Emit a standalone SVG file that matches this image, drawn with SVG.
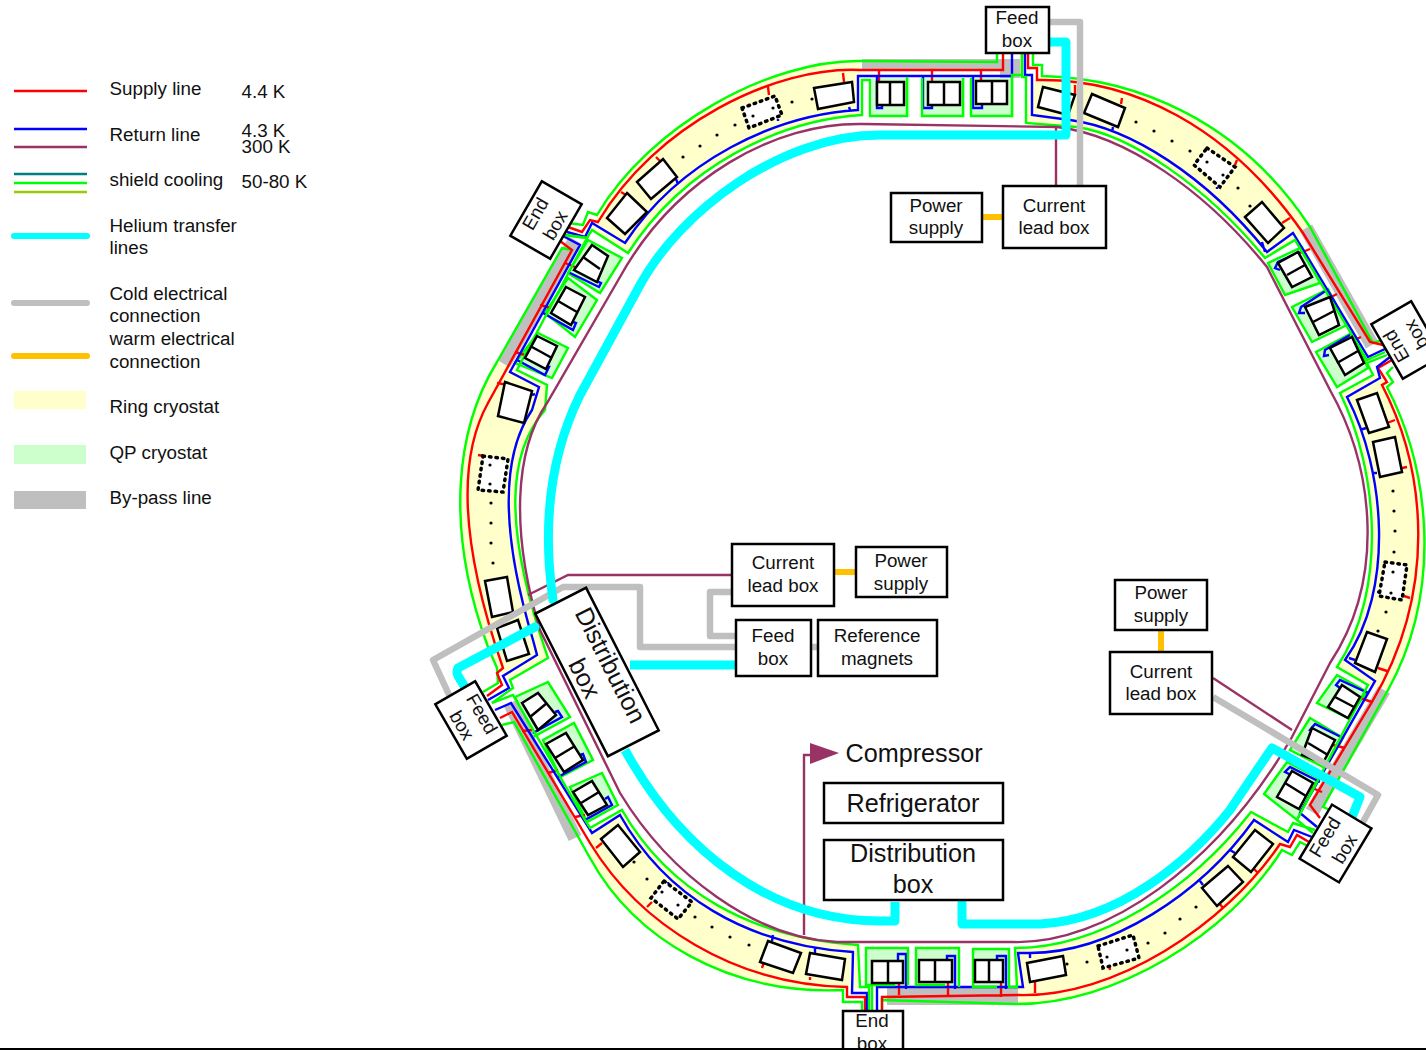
<svg xmlns="http://www.w3.org/2000/svg" width="1426" height="1050" viewBox="0 0 1426 1050">
<style>
text{font-family:"Liberation Sans",Arial,sans-serif;font-size:18.8px;fill:#111}
.c{text-anchor:middle}
.b{font-size:25.2px}
.box{fill:#fff;stroke:#000;stroke-width:2.5}
.l{fill:none;stroke-width:2.4;stroke-linejoin:miter}
.r{stroke:#f00}.u{stroke:#00f}.g{stroke:#0f0}
.y{fill:#ffc;stroke:none}
.q{fill:#cfc;stroke:#0f0;stroke-width:2.4}
.p{fill:none;stroke:#bfbfbf;stroke-width:14}
.m{fill:#fff;stroke:#000;stroke-width:2.5}
.ml{stroke:#000;stroke-width:2.5}
.d{fill:#fff;stroke:#000;stroke-width:3.5;stroke-dasharray:1.5 5;stroke-linecap:round}
.w{fill:none;stroke:#936;stroke-width:2.4}
.cy{fill:none;stroke:#0ff;stroke-width:9;stroke-linejoin:round;stroke-linecap:round}
.gr{fill:none;stroke:#bfbfbf;stroke-width:6.5;stroke-linejoin:round}
.o{fill:none;stroke:#ffc000;stroke-width:6}
</style>
<g id="legend">
<path class="l r" d="M14,91H87"/><path class="l u" d="M14,129H87"/><path class="w" d="M14,147H87"/>
<path class="l" stroke="#008080" d="M14,174H87"/><path class="l g" d="M14,183H87"/><path class="l" stroke="#9c0" d="M14,192H87"/>
<path d="M14,236H87" fill="none" stroke="#0ff" stroke-width="6" stroke-linecap="round"/>
<path d="M14,303H87" fill="none" stroke="#bfbfbf" stroke-width="6" stroke-linecap="round"/>
<path d="M14,356H87" fill="none" stroke="#ffc000" stroke-width="6" stroke-linecap="round"/>
<rect class="y" x="14" y="391" width="72" height="18"/><rect x="14" y="445" width="72" height="19" fill="#cfc"/><rect x="14" y="491" width="72" height="18" fill="#bfbfbf"/>
<text x="109.5" y="95">Supply line</text><text x="241.5" y="98">4.4 K</text>
<text x="109.5" y="141">Return line</text><text x="241.5" y="137">4.3 K</text><text x="241.5" y="153">300 K</text>
<text x="109.5" y="186">shield cooling</text><text x="241.5" y="188">50-80 K</text>
<text x="109.5" y="232">Helium transfer</text><text x="109.5" y="254">lines</text>
<text x="109.5" y="300">Cold electrical</text><text x="109.5" y="322">connection</text>
<text x="109.5" y="345">warm electrical</text><text x="109.5" y="368">connection</text>
<text x="109.5" y="413">Ring cryostat</text><text x="109.5" y="459">QP cryostat</text><text x="109.5" y="504">By-pass line</text>
</g>
<g id="cryostats">
<path class="y" d="M597,215C650,125 770,60 860,61L863,115C780,120 685,165 628,253L592,230Z"/>
<path class="y" d="M1042,76C1135,78 1240,120 1310,227L1295,240L1265,258C1205,185 1130,135 1077,127L1026,123L1032,80Z"/>
<path class="y" d="M1387,387C1430,470 1443,590 1388,690L1368,685L1337,667C1388,590 1378,470 1340,393L1373,375L1387,373Z"/>
<path class="y" d="M1282,850C1228,935 1115,1005 1015,1004L1015,948C1100,948 1190,890 1251,812L1288,832Z"/>
<path class="y" d="M590,858C635,940 730,995 843,990L860,987L858,945C750,938 668,890 622,810L590,828Z"/>
<path class="y" d="M497,668L488,647C445,530 455,430 497,362L517,370L547,385L545,410C510,450 500,520 548,658L510,680Z"/>
<g id="qp">
<path fill="#cfc" d="M872,78H910V117H872ZM922,78H965V117H922ZM971,78H1014V117H971ZM866,948H908V987H866ZM916,948H959V986H916ZM973,949H1009V988H973Z"/>
<polygon class="q" points="588,240 622,258 600,293 568,273"/><polygon class="q" points="568,278 597,300 575,337 545,313"/><polygon class="q" points="538,333 568,348 552,378 515,363"/>
<polygon class="q" points="515,697 548,682 570,717 533,737"/><polygon class="q" points="543,740 574,723 593,760 560,777"/><polygon class="q" points="570,787 602,773 618,805 587,822"/>
<polygon class="q" points="1287,762 1318,778 1297,820 1264,794"/><polygon class="q" points="1310,718 1343,738 1325,768 1290,750"/><polygon class="q" points="1337,675 1367,692 1348,718 1317,703"/>
<polygon class="q" points="1268,263 1302,247 1320,283 1285,295"/><polygon class="q" points="1292,307 1328,289 1347,325 1312,342"/><polygon class="q" points="1316,352 1352,333 1368,368 1337,387"/>
</g>
<g id="bypass" fill="#bfbfbf">
<path d="M862,59H1020V78H1000V70H862Z"/><path d="M887,988H1018V1005H887Z"/>
<path class="p" d="M1306,228L1372,345"/><path class="p" d="M1384,690L1312,812"/><path class="p" d="M510,703L575,838"/><path class="p" d="M504,364L575,240"/>
</g>
</g>
<g id="ring-lines">
<path class="l g" d="M568,223L583,225L588,212L597,215C650,125 770,60 860,61L997,62V54"/>
<path class="l r" d="M568,227L582,232L590,220L598,222C655,125 775,66 860,70H1003V54M879,70V82M932,70V82M981,70V81M843,73L844,82M621,192L626,195M656,157L660,161M768,87L769,95"/>
<path class="l u" d="M567,232L585,237L592,223L625,243C680,160 775,115 858,110V76H1012V54M877,76V108H882V105M923,76V108H932V105M973,76V108H982V105M849,107L850,110M676,179L678,184M778,119V121"/>
<path class="l g" d="M565,235L587,238L592,230L628,253C685,165 780,120 862,115V80H870V116H907V77M922,78V116H963V78M971,78V116H1012V75H1022V54"/>
<path class="l g" d="M1033,54V65H1042V76C1135,78 1240,120 1310,227L1373,343L1383,340"/>
<path class="l r" d="M1028,54V68H1037V80C1130,78 1228,125 1303,233L1370,342L1383,345M1075,85V95M1122,98L1121,104M1237,160L1235,165M1290,218L1282,223M1310,249L1300,253M1337,294L1327,299M1361,337L1352,341"/>
<path class="l u" d="M1025,54V75H1032V115L1070,120C1130,128 1205,175 1267,252L1293,233L1368,357L1387,348M1113,127L1112,132M1217,187V189M1262,242L1265,252M1300,252L1278,262L1275,268L1280,270M1327,290L1301,307L1299,313L1305,313M1350,335L1325,350L1324,356L1329,355"/>
<path class="l g" d="M1022,54V77H1026V123L1077,127C1130,135 1205,185 1265,258L1295,240L1367,360L1385,352"/>
<path class="l g" d="M1393,367L1387,373L1393,382L1387,387C1430,470 1443,590 1388,690L1323,807L1335,812"/>
<path class="l r" d="M1392,360L1378,368L1387,382L1382,385C1426,470 1438,590 1372,702L1310,805L1320,818M1395,420L1387,423M1402,468L1407,467M1404,596L1410,598M1378,668L1387,671M1372,702L1360,698M1345,748L1333,745M1322,792L1312,788"/>
<path class="l u" d="M1390,357L1377,367L1380,378L1347,397C1385,470 1395,590 1345,660L1375,681L1300,813L1317,827M1360,430L1366,428M1372,473L1377,473M1377,592H1380M1349,658L1355,660M1368,693L1340,680L1336,685L1340,688M1343,738L1315,724L1310,730L1315,732M1320,782L1290,767L1285,772L1291,775"/>
<path class="l g" d="M1387,355L1367,363L1373,375L1340,393C1378,470 1388,590 1337,667L1368,685L1297,820L1313,833"/>
<path class="l g" d="M1331,847L1310,847L1300,842L1292,855L1282,850C1228,935 1115,1005 1015,1004L882,1000V1010"/>
<path class="l r" d="M1309,842L1297,835L1290,847L1280,844C1225,925 1115,998 1018,995L882,997V1010M1254,869L1258,873M1219,903L1223,908M1110,970L1109,965M1035,982V993M1001,982V997M948,982V997M899,983V995"/>
<path class="l u" d="M1312,837L1294,830L1288,842L1254,820C1200,895 1110,953 1030,953H1018L1023,987H877V1010M1230,850L1235,853M1200,881L1203,885M1100,945V948M1030,953V958M898,961V954H906V989M947,960V956H955V989M997,960V956H1006V989"/>
<path class="l g" d="M1315,830L1293,823L1288,832L1251,812C1190,890 1100,948 1015,948L1017,987H1009V949H973V987H997M959,987V948H916V985H945M908,985V948H866V985H895M872,1010V985"/>
<path class="l g" d="M862,1010V1002H843V990C730,995 635,940 590,858L514,722L502,725"/>
<path class="l r" d="M865,1010V997H847V987C735,985 640,925 590,843L512,712L500,718M810,977V980M764,962L762,968M652,902L647,907M596,848L602,843M548,773L558,770M575,817L585,815M522,731L532,730"/>
<path class="l u" d="M867,1010V993H852L853,952C745,945 665,895 620,815L592,833L511,703L495,710M815,948V955M773,935L772,941M668,882V884M533,733L562,717L558,711L555,712M558,777L586,762L583,754L580,755M585,820L612,805L608,797L605,799"/>
<path class="l g" d="M869,1010V987H860L858,945C750,938 668,890 622,810L590,828L585,820L513,695L492,703"/>
<path class="l g" d="M483,692L498,683L497,668L488,647C445,530 455,430 497,362L562,248L572,250"/>
<path class="l r" d="M487,696L502,685L497,673L503,668C455,530 462,450 488,403L572,250L560,241M497,383L508,385M515,352L525,355M540,305L551,308M565,263L575,267M478,455L484,456"/>
<path class="l u" d="M488,700L509,688L503,676L537,655L533,640C497,520 505,450 532,410L539,387L510,372L580,245L563,236M532,395L535,394M517,360L545,375L549,367L545,367M543,313L573,330L576,323L570,321M568,272L599,287L601,283L595,280"/>
<path class="l g" d="M492,703L513,688L510,680L548,658C500,520 510,450 545,410L547,385L517,370L587,238L565,235"/>
</g>
<g id="magnets">
<polygon class="d" points="742,108 775,96 782,115 749,128"/><polygon class="d" points="1207,148 1235,167 1220,187 1194,165"/><polygon class="d" points="1385,562 1407,565 1402,600 1379,596"/><polygon class="d" points="1098,946 1133,935 1139,958 1103,968"/><polygon class="d" points="664,881 692,902 678,919 651,898"/><polygon class="d" points="483,456 508,459 503,492 478,490"/>
<g fill="#000">
<circle cx="792" cy="102" r="1.6"/><circle cx="812" cy="99" r="1.6"/><circle cx="683" cy="157" r="1.6"/><circle cx="700" cy="146" r="1.6"/><circle cx="717" cy="135" r="1.6"/><circle cx="735" cy="125" r="1.6"/><circle cx="753" cy="116" r="1.6"/><circle cx="773" cy="108" r="1.6"/>
<circle cx="1136" cy="122" r="1.6"/><circle cx="1154" cy="131" r="1.6"/><circle cx="1172" cy="141" r="1.6"/><circle cx="1190" cy="151" r="1.6"/><circle cx="1207" cy="162" r="1.6"/><circle cx="1223" cy="175" r="1.6"/><circle cx="1238" cy="188" r="1.6"/><circle cx="1250" cy="206" r="1.6"/>
<circle cx="1393" cy="491" r="1.6"/><circle cx="1394" cy="511" r="1.6"/><circle cx="1395" cy="531" r="1.6"/><circle cx="1394" cy="552" r="1.6"/><circle cx="1393" cy="572" r="1.6"/><circle cx="1391" cy="593" r="1.6"/><circle cx="1386" cy="612" r="1.6"/><circle cx="1378" cy="631" r="1.6"/>
<circle cx="1067" cy="964" r="1.6"/><circle cx="1087" cy="962" r="1.6"/><circle cx="1107" cy="957" r="1.6"/><circle cx="1127" cy="950" r="1.6"/><circle cx="1148" cy="943" r="1.6"/><circle cx="1165" cy="933" r="1.6"/><circle cx="1180" cy="919" r="1.6"/><circle cx="1196" cy="907" r="1.6"/>
<circle cx="634" cy="862" r="1.6"/><circle cx="647" cy="879" r="1.6"/><circle cx="662" cy="892" r="1.6"/><circle cx="678" cy="905" r="1.6"/><circle cx="695" cy="917" r="1.6"/><circle cx="712" cy="927" r="1.6"/><circle cx="730" cy="937" r="1.6"/><circle cx="749" cy="945" r="1.6"/>
<circle cx="491" cy="503" r="1.6"/><circle cx="491" cy="523" r="1.6"/><circle cx="491" cy="543" r="1.6"/><circle cx="493" cy="563" r="1.6"/><circle cx="490" cy="465" r="1.6"/><circle cx="490" cy="484" r="1.6"/>
</g>
<polygon class="m" points="814,88 852,82 854,102 818,109"/><polygon class="m" points="1043,87 1075,95 1068,115 1038,107"/><polygon class="m" points="1092,94 1125,108 1118,127 1084,113"/>
<polygon class="m" points="663,159 677,177 651,199 637,182"/><polygon class="m" points="627,193 647,212 625,234 607,218"/>
<polygon class="m" points="505,382 532,391 524,423 498,416"/><polygon class="m" points="485,581 507,577 513,612 492,617"/><polygon class="m" points="497,628 518,620 529,654 507,661"/>
<polygon class="m" points="618,825 640,852 623,867 601,839"/><polygon class="m" points="768,941 801,953 793,973 760,962"/><polygon class="m" points="810,953 845,959 842,980 806,974"/>
<polygon class="m" points="1027,963 1063,956 1066,975 1030,982"/><polygon class="m" points="1255,830 1273,844 1251,872 1233,857"/><polygon class="m" points="1228,866 1243,882 1217,906 1202,888"/>
<polygon class="m" points="1367,632 1387,639 1375,672 1355,663"/><polygon class="m" points="1373,442 1395,437 1402,472 1380,477"/><polygon class="m" points="1357,400 1377,393 1389,427 1369,433"/>
<polygon class="m" points="1245,217 1262,202 1284,228 1268,243"/>
<rect class="m" x="877" y="82" width="27" height="23"/><path class="ml" d="M890,82V105"/><rect class="m" x="928" y="82" width="32" height="23"/><path class="ml" d="M944,82V105"/><rect class="m" x="976" y="81" width="31" height="23"/><path class="ml" d="M992,81V104"/>
<rect class="m" x="872" y="961" width="31" height="22"/><path class="ml" d="M888,961V983"/><rect class="m" x="919" y="960" width="33" height="22"/><path class="ml" d="M935,960V982"/><rect class="m" x="975" y="960" width="28" height="22"/><path class="ml" d="M989,960V982"/>
<polygon class="m" points="592,245 608,256 597,282 574,270"/><path class="ml" d="M583,257L600,269"/>
<polygon class="m" points="566,287 585,297 571,325 551,313"/><path class="ml" d="M558,301L577,312"/>
<polygon class="m" points="537,336 557,346 546,369 525,358"/><path class="ml" d="M532,347L552,358"/>
<polygon class="m" points="522,703 538,693 556,715 538,730"/><path class="ml" d="M530,717L547,703"/>
<polygon class="m" points="546,744 566,733 583,760 564,772"/><path class="ml" d="M555,758L575,746"/>
<polygon class="m" points="573,792 592,781 607,805 588,815"/><path class="ml" d="M581,803L599,792"/>
<polygon class="m" points="1292,771 1313,783 1299,809 1277,797"/><path class="ml" d="M1285,783L1306,796"/>
<polygon class="m" points="1312,728 1335,740 1323,763 1302,755"/><path class="ml" d="M1308,743L1328,755"/>
<polygon class="m" points="1342,685 1360,697 1348,718 1328,707"/><path class="ml" d="M1335,697L1354,707"/>
<polygon class="m" points="1298,252 1312,277 1292,287 1278,263"/><path class="ml" d="M1287,275L1305,265"/>
<polygon class="m" points="1305,307 1330,297 1339,325 1319,335"/><path class="ml" d="M1313,322L1334,311"/>
<polygon class="m" points="1330,348 1352,337 1364,363 1345,375"/><path class="ml" d="M1337,363L1358,351"/>
</g>
<g id="connectors">
<path class="w" d="M863,124L1057,127C1125,135 1205,190 1267,267L1330,390C1375,470 1385,580 1330,663L1292,737C1218,865 1105,945 1013,942L837,942C755,938 670,875 620,793L540,630C510,530 515,450 547,403L620,277C675,178 775,122 863,124Z"/>
<path class="w" d="M1056,127V186M528,595L568,575H732M1213,678L1292,730M804,935V755H812"/>
<polygon points="810,743 839,753 810,764" fill="#936"/>
<path class="gr" d="M1049,22H1080V186"/>
<path class="gr" d="M450,697L433,660L563,587H640V647H736M811,647H818M732,592H710V636H736"/>
<path class="gr" d="M1213,697L1378,795L1363,822"/>
<path class="cy" d="M553,600C543,530 548,460 580,395L640,285C680,212 780,135 880,135H1066V42H1049"/>
<path class="cy" style="stroke-linecap:butt" d="M630,665H736"/>
<path class="cy" d="M535,627L458,668Q456,672 458,676L468,692"/>
<path class="cy" style="stroke-linecap:butt" d="M625,750C680,850 770,921 880,921H895V902"/>
<path class="cy" d="M962,903V924H1040C1120,920 1190,860 1230,810Q1250,780 1272,748L1360,797L1352,817"/>
<path class="o" d="M983,217H1003M835,572H856M1161,630V652"/>
</g>
<g id="feed-box-top"><rect class="box" x="986" y="7" width="63" height="46"/><text class="c" x="1017" y="24">Feed</text><text class="c" x="1017" y="47">box</text></g>
<g id="power-supply-1"><rect class="box" x="891" y="193" width="91" height="49"/><text class="c" x="936" y="212">Power</text><text class="c" x="936" y="234">supply</text></g>
<g id="current-lead-1"><rect class="box" x="1003" y="186" width="103" height="62"/><text class="c" x="1054" y="212">Current</text><text class="c" x="1054" y="234">lead box</text></g>
<g id="current-lead-2"><rect class="box" x="732" y="544" width="102" height="62"/><text class="c" x="783" y="569">Current</text><text class="c" x="783" y="592">lead box</text></g>
<g id="power-supply-2"><rect class="box" x="856" y="547" width="91" height="50"/><text class="c" x="901" y="567">Power</text><text class="c" x="901" y="590">supply</text></g>
<g id="feed-box-centre"><rect class="box" x="736" y="620" width="75" height="56"/><text class="c" x="773" y="642">Feed</text><text class="c" x="773" y="665">box</text></g>
<g id="reference-magnets"><rect class="box" x="818" y="620" width="119" height="56"/><text class="c" x="877" y="642">Reference</text><text class="c" x="877" y="665">magnets</text></g>
<g id="power-supply-3"><rect class="box" x="1115" y="580" width="92" height="50"/><text class="c" x="1161" y="599">Power</text><text class="c" x="1161" y="622">supply</text></g>
<g id="current-lead-3"><rect class="box" x="1110" y="652" width="102" height="62"/><text class="c" x="1161" y="678">Current</text><text class="c" x="1161" y="700">lead box</text></g>
<g id="compressor"><text class="b" x="845.5" y="762">Compressor</text></g>
<g id="refrigerator"><rect class="box" x="824" y="783" width="179" height="40"/><text class="c b" x="913" y="812">Refrigerator</text></g>
<g id="distribution-box-bottom"><rect class="box" x="824" y="840" width="179" height="60"/><text class="c b" x="913" y="862">Distribution</text><text class="c b" x="913" y="893">box</text></g>
<g id="distribution-box-left" transform="translate(597,672) rotate(63)"><rect class="box" x="-80" y="-28.5" width="160" height="57"/><text class="c b" y="-6.5">Distribution</text><text class="c b" y="22.5">box</text></g>
<g id="feed-box-left" transform="translate(471,720) rotate(60)"><rect class="box" x="-31.5" y="-23" width="63" height="46"/><text class="c" y="-6">Feed</text><text class="c" y="17">box</text></g>
<g id="end-box-left" transform="translate(546,220) rotate(-60)"><rect class="box" x="-31.5" y="-23" width="63" height="46"/><text class="c" y="-6">End</text><text class="c" y="17">box</text></g>
<g id="end-box-right" transform="translate(1407,340) rotate(-120)"><rect class="box" x="-31.5" y="-23" width="63" height="46"/><text class="c" y="-6">End</text><text class="c" y="17">box</text></g>
<g id="feed-box-right" transform="translate(1335.5,843.5) rotate(-59)"><rect class="box" x="-31.5" y="-23" width="63" height="46"/><text class="c" y="-6">Feed</text><text class="c" y="17">box</text></g>
<g id="end-box-bottom"><rect class="box" x="843" y="1011" width="60" height="50"/><text class="c" x="872" y="1027">End</text><text class="c" x="872" y="1050">box</text></g>
<path d="M0,1049H1426" stroke="#000" stroke-width="2"/>
</svg>
